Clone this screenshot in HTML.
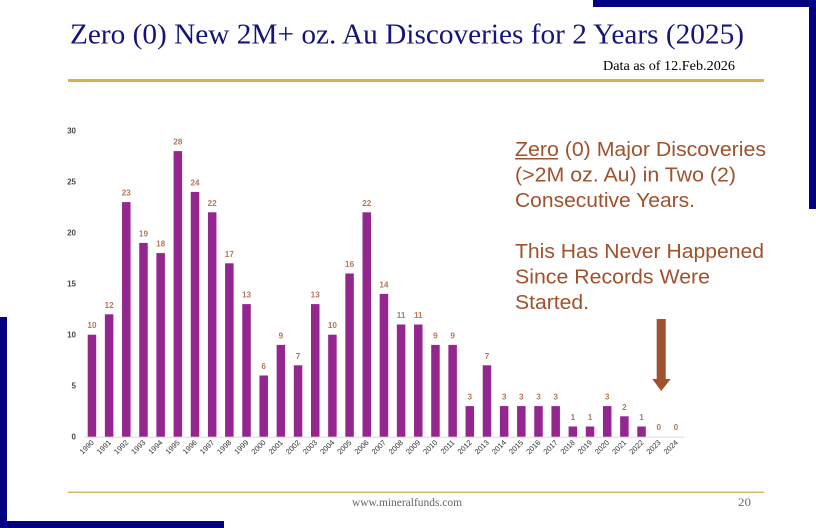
<!DOCTYPE html>
<html>
<head>
<meta charset="utf-8">
<style>
  html,body{margin:0;padding:0;background:#fff;}
  body{width:816px;height:528px;overflow:hidden;}
  svg{display:block;}
  .t{font-family:"Liberation Serif",serif;}
  .s{font-family:"Liberation Sans",sans-serif;}
</style>
</head>
<body>
<svg width="816" height="528" viewBox="0 0 816 528" xmlns="http://www.w3.org/2000/svg">
  <rect x="0" y="0" width="816" height="528" fill="#ffffff"/>

  <!-- navy decorations -->
  <rect x="593" y="0" width="223" height="7" fill="#000080"/>
  <rect x="809" y="0" width="7" height="209" fill="#000080"/>
  <rect x="0" y="317" width="7" height="211" fill="#000080"/>
  <rect x="0" y="521" width="224" height="7" fill="#000080"/>

  <!-- title -->
  <text class="t" x="70" y="43.5" font-size="28" fill="#14147a" textLength="674" lengthAdjust="spacingAndGlyphs">Zero (0) New 2M+ oz. Au Discoveries for 2 Years (2025)</text>
  <text class="t" x="603" y="70" font-size="14" fill="#000" textLength="132" lengthAdjust="spacingAndGlyphs">Data as of 12.Feb.2026</text>
  <rect x="68" y="79" width="696" height="3" fill="#d6b14c"/>

  <!-- footer -->
  <rect x="68" y="491.5" width="696" height="1.5" fill="#d9b865"/>
  <text class="t" x="352" y="506" font-size="12" fill="#666" textLength="110" lengthAdjust="spacingAndGlyphs">www.mineralfunds.com</text>
  <text class="t" x="738" y="506" font-size="12" fill="#666" textLength="13" lengthAdjust="spacingAndGlyphs">20</text>

  <!-- y axis labels -->
  <g class="s" font-size="8" font-weight="bold" fill="#4a4a4a" text-anchor="end">
    <text x="76" y="133.5">30</text>
    <text x="76" y="184.5">25</text>
    <text x="76" y="235.5">20</text>
    <text x="76" y="286.5">15</text>
    <text x="76" y="337.5">10</text>
    <text x="76" y="388.5">5</text>
    <text x="76" y="439.5">0</text>
  </g>

  <!-- baseline -->
  <rect x="84" y="436.7" width="600" height="1" fill="#d9d9d9"/>

  <!-- bars -->
  <g fill="#93268f">
    <rect x="87.70" y="334.7" width="8.5" height="102"/>
    <rect x="104.88" y="314.3" width="8.5" height="122.4"/>
    <rect x="122.05" y="202.1" width="8.5" height="234.6"/>
    <rect x="139.23" y="242.9" width="8.5" height="193.8"/>
    <rect x="156.40" y="253.1" width="8.5" height="183.6"/>
    <rect x="173.58" y="151.1" width="8.5" height="285.6"/>
    <rect x="190.75" y="191.9" width="8.5" height="244.8"/>
    <rect x="207.93" y="212.3" width="8.5" height="224.4"/>
    <rect x="225.10" y="263.3" width="8.5" height="173.4"/>
    <rect x="242.28" y="304.1" width="8.5" height="132.6"/>
    <rect x="259.45" y="375.5" width="8.5" height="61.2"/>
    <rect x="276.63" y="344.9" width="8.5" height="91.8"/>
    <rect x="293.80" y="365.3" width="8.5" height="71.4"/>
    <rect x="310.98" y="304.1" width="8.5" height="132.6"/>
    <rect x="328.15" y="334.7" width="8.5" height="102"/>
    <rect x="345.33" y="273.5" width="8.5" height="163.2"/>
    <rect x="362.50" y="212.3" width="8.5" height="224.4"/>
    <rect x="379.68" y="293.9" width="8.5" height="142.8"/>
    <rect x="396.85" y="324.5" width="8.5" height="112.2"/>
    <rect x="414.03" y="324.5" width="8.5" height="112.2"/>
    <rect x="431.20" y="344.9" width="8.5" height="91.8"/>
    <rect x="448.38" y="344.9" width="8.5" height="91.8"/>
    <rect x="465.55" y="406.1" width="8.5" height="30.6"/>
    <rect x="482.73" y="365.3" width="8.5" height="71.4"/>
    <rect x="499.90" y="406.1" width="8.5" height="30.6"/>
    <rect x="517.08" y="406.1" width="8.5" height="30.6"/>
    <rect x="534.25" y="406.1" width="8.5" height="30.6"/>
    <rect x="551.43" y="406.1" width="8.5" height="30.6"/>
    <rect x="568.60" y="426.5" width="8.5" height="10.2"/>
    <rect x="585.78" y="426.5" width="8.5" height="10.2"/>
    <rect x="602.95" y="406.1" width="8.5" height="30.6"/>
    <rect x="620.13" y="416.3" width="8.5" height="20.4"/>
    <rect x="637.30" y="426.5" width="8.5" height="10.2"/>
  </g>

  <!-- data labels -->
  <g class="s" font-size="8.2" font-weight="bold" fill="#b5785a" text-anchor="middle">
    <text x="91.95" y="328.2">10</text>
    <text x="109.13" y="307.8">12</text>
    <text x="126.30" y="195.6">23</text>
    <text x="143.48" y="236.4">19</text>
    <text x="160.65" y="246.6">18</text>
    <text x="177.83" y="144.6">28</text>
    <text x="195.00" y="185.4">24</text>
    <text x="212.18" y="205.8">22</text>
    <text x="229.35" y="256.8">17</text>
    <text x="246.53" y="297.6">13</text>
    <text x="263.70" y="369.0">6</text>
    <text x="280.88" y="338.4">9</text>
    <text x="298.05" y="358.8">7</text>
    <text x="315.23" y="297.6">13</text>
    <text x="332.40" y="328.2">10</text>
    <text x="349.58" y="267.0">16</text>
    <text x="366.75" y="205.8">22</text>
    <text x="383.93" y="287.4">14</text>
    <text x="401.10" y="318.0">11</text>
    <text x="418.28" y="318.0">11</text>
    <text x="435.45" y="338.4">9</text>
    <text x="452.63" y="338.4">9</text>
    <text x="469.80" y="399.6">3</text>
    <text x="486.98" y="358.8">7</text>
    <text x="504.15" y="399.6">3</text>
    <text x="521.33" y="399.6">3</text>
    <text x="538.50" y="399.6">3</text>
    <text x="555.68" y="399.6">3</text>
    <text x="572.85" y="420.0">1</text>
    <text x="590.03" y="420.0">1</text>
    <text x="607.20" y="399.6">3</text>
    <text x="624.38" y="409.8">2</text>
    <text x="641.55" y="420.0">1</text>
    <text x="658.73" y="430.2">0</text>
    <text x="675.90" y="430.2">0</text>
  </g>

  <!-- x axis labels -->
  <g class="s" font-size="7.5" fill="#333333" text-anchor="end">
    <text transform="translate(94.45,443) rotate(-45)">1990</text>
    <text transform="translate(111.63,443) rotate(-45)">1991</text>
    <text transform="translate(128.80,443) rotate(-45)">1992</text>
    <text transform="translate(145.98,443) rotate(-45)">1993</text>
    <text transform="translate(163.15,443) rotate(-45)">1994</text>
    <text transform="translate(180.33,443) rotate(-45)">1995</text>
    <text transform="translate(197.50,443) rotate(-45)">1996</text>
    <text transform="translate(214.68,443) rotate(-45)">1997</text>
    <text transform="translate(231.85,443) rotate(-45)">1998</text>
    <text transform="translate(249.03,443) rotate(-45)">1999</text>
    <text transform="translate(266.20,443) rotate(-45)">2000</text>
    <text transform="translate(283.38,443) rotate(-45)">2001</text>
    <text transform="translate(300.55,443) rotate(-45)">2002</text>
    <text transform="translate(317.73,443) rotate(-45)">2003</text>
    <text transform="translate(334.90,443) rotate(-45)">2004</text>
    <text transform="translate(352.08,443) rotate(-45)">2005</text>
    <text transform="translate(369.25,443) rotate(-45)">2006</text>
    <text transform="translate(386.43,443) rotate(-45)">2007</text>
    <text transform="translate(403.60,443) rotate(-45)">2008</text>
    <text transform="translate(420.78,443) rotate(-45)">2009</text>
    <text transform="translate(437.95,443) rotate(-45)">2010</text>
    <text transform="translate(455.13,443) rotate(-45)">2011</text>
    <text transform="translate(472.30,443) rotate(-45)">2012</text>
    <text transform="translate(489.48,443) rotate(-45)">2013</text>
    <text transform="translate(506.65,443) rotate(-45)">2014</text>
    <text transform="translate(523.83,443) rotate(-45)">2015</text>
    <text transform="translate(541.00,443) rotate(-45)">2016</text>
    <text transform="translate(558.18,443) rotate(-45)">2017</text>
    <text transform="translate(575.35,443) rotate(-45)">2018</text>
    <text transform="translate(592.53,443) rotate(-45)">2019</text>
    <text transform="translate(609.70,443) rotate(-45)">2020</text>
    <text transform="translate(626.88,443) rotate(-45)">2021</text>
    <text transform="translate(644.05,443) rotate(-45)">2022</text>
    <text transform="translate(661.23,443) rotate(-45)">2023</text>
    <text transform="translate(678.40,443) rotate(-45)">2024</text>
  </g>

  <!-- annotation -->
  <g class="s" font-size="20" fill="#a0522d">
    <text x="515" y="156" textLength="251" lengthAdjust="spacingAndGlyphs">Zero (0) Major Discoveries</text>
    <text x="515" y="181.5" textLength="221" lengthAdjust="spacingAndGlyphs">(&gt;2M oz. Au) in Two (2)</text>
    <text x="515" y="207" textLength="180" lengthAdjust="spacingAndGlyphs">Consecutive Years.</text>
    <text x="515" y="258" textLength="249" lengthAdjust="spacingAndGlyphs">This Has Never Happened</text>
    <text x="515" y="283.5" textLength="195" lengthAdjust="spacingAndGlyphs">Since Records Were</text>
    <text x="515" y="309" textLength="74" lengthAdjust="spacingAndGlyphs">Started.</text>
  </g>
  <rect x="515" y="158" width="43" height="1.5" fill="#a0522d"/>

  <!-- arrow -->
  <rect x="656.7" y="319" width="9" height="61" fill="#a0522d"/>
  <polygon points="652.3,379 670.7,379 661.2,391" fill="#a0522d"/>
</svg>
</body>
</html>
